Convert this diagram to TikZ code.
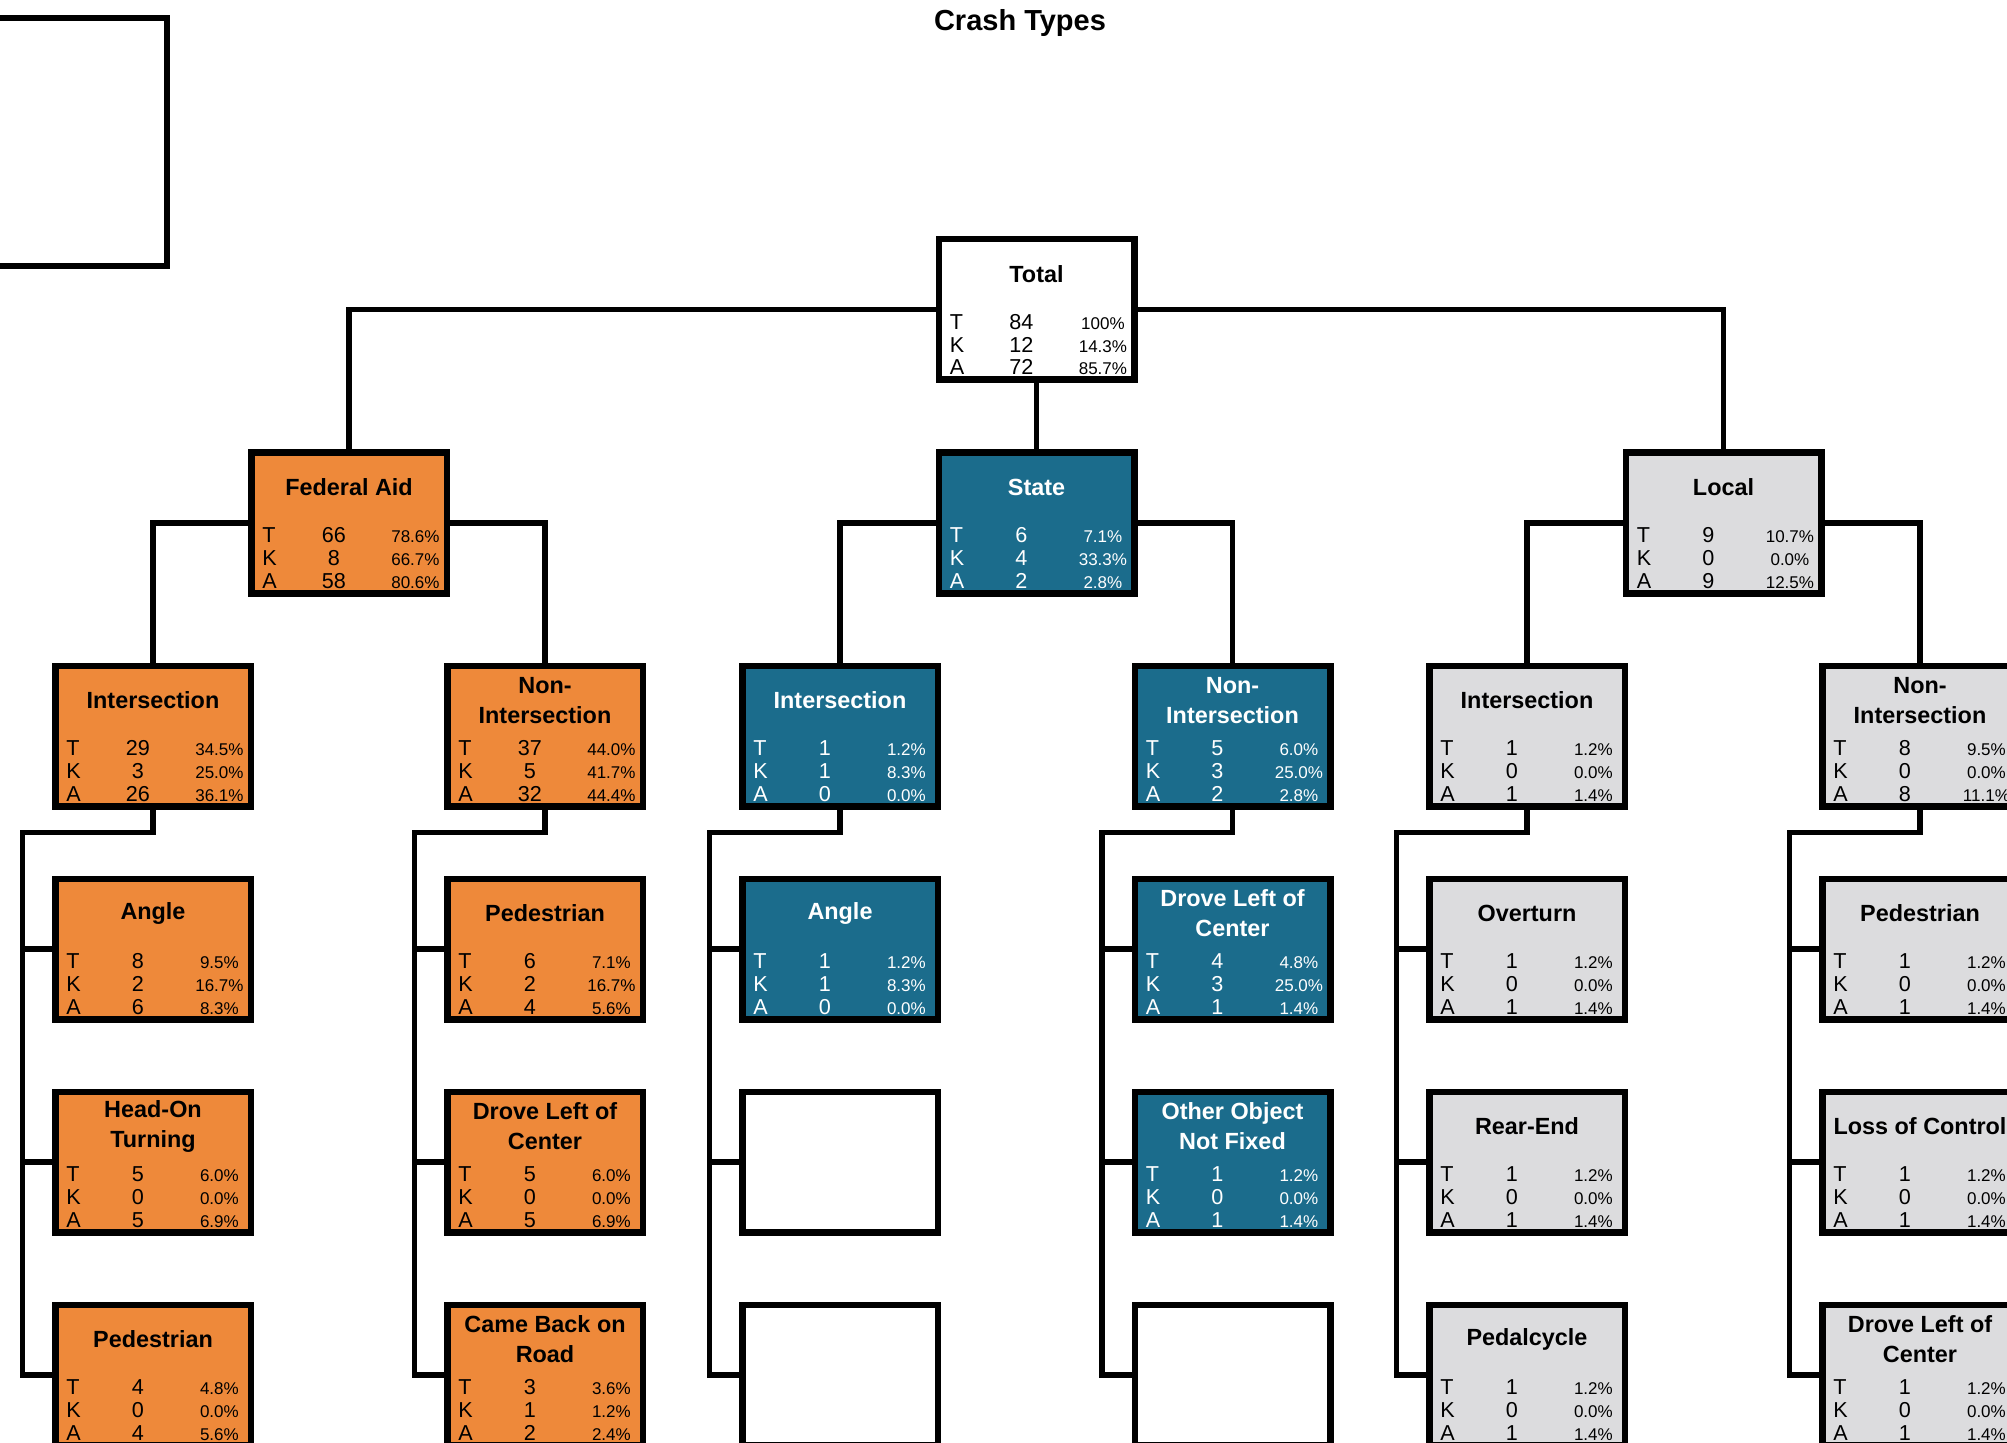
\documentclass[tikz,border=0pt]{standalone}
\usepackage{fontspec}
\setmainfont{Liberation Sans}
\usepackage{xcolor}
\usepackage{tikz}

\definecolor{fedorange}{RGB}{238,137,58}
\definecolor{stateblue}{RGB}{27,108,140}
\definecolor{localgray}{RGB}{220,220,222}

\newcommand{\pctfont}{\fontsize{8.5}{10}\selectfont}
\newcommand{\rowtext}[3]{\makebox[15pt][l]{#1}\makebox[41.5pt]{#2}\makebox[40pt]{\pctfont #3\%}}
\def\statrows#1#2#3/#4/#5/#6/#7/#8\relax{%
  \node[statrow, #1 text] (#2-T) at ([xshift=-43.5pt,yshift=-9.9pt]#2.center) {\rowtext{T}{#3}{#4}};
  \node[statrow, #1 text] (#2-K) at ([xshift=-43.5pt,yshift=-21.3pt]#2.center) {\rowtext{K}{#5}{#6}};
  \node[statrow, #1 text] (#2-A) at ([xshift=-43.5pt,yshift=-32.7pt]#2.center) {\rowtext{A}{#7}{#8}};
}
\newcommand{\crashbox}[5]{%
  \node[crash, #1 box] (#2) at (#3) {};
  \node[boxtitle, #1 text] (#2-title) at ([yshift=17.75pt]#2.center) {#4};
  \statrows{#1}{#2}#5\relax
}

\begin{document}
\begin{tikzpicture}[
    x=0.5pt, y=-0.5pt,
    crash/.style={rectangle, draw, line width=3.25pt, minimum width=97.75pt, minimum height=70.25pt, inner sep=0pt},
    emptybox/.style={crash, fill=white},
    total box/.style={fill=white}, total text/.style={text=black},
    fed box/.style={fill=fedorange}, fed text/.style={text=black},
    state box/.style={fill=stateblue}, state text/.style={text=white},
    local box/.style={fill=localgray}, local text/.style={text=black},
    boxtitle/.style={font=\fontsize{11.7}{15}\selectfont\bfseries, align=center, inner sep=0pt},
    statrow/.style={font=\fontsize{10.8}{12}\selectfont, anchor=base west, inner sep=0pt},
    link/.style={line width=2.6pt}
]
    \useasboundingbox (0,0) rectangle (2007,1443);
    \clip (0,0) rectangle (2007,1443);

    % Heading
    \node[font=\fontsize{14.5}{17}\selectfont\bfseries] (title) at (1020,23) {Crash Types};
    \node[draw, line width=3pt, minimum width=113.5pt, minimum height=124pt, inner sep=0pt] (legend) at (53.5,142) {};

    % Total
    \crashbox{total}{total}{1036.5,309.5}{Total}{84/100/12/14.3/72/85.7}

    % Jurisdiction
    \crashbox{fed}{fed}{349,523}{Federal Aid}{66/78.6/8/66.7/58/80.6}
    \crashbox{state}{state}{1036.5,523}{State}{6/7.1/4/33.3/2/2.8}
    \crashbox{local}{local}{1723.5,523}{Local}{9/10.7/0/0.0/9/12.5}

    % Location
    \crashbox{fed}{fedInt}{153,736}{Intersection}{29/34.5/3/25.0/26/36.1}
    \crashbox{fed}{fedNon}{545,736}{Non-\\Intersection}{37/44.0/5/41.7/32/44.4}
    \crashbox{state}{stateInt}{840,736}{Intersection}{1/1.2/1/8.3/0/0.0}
    \crashbox{state}{stateNon}{1232.5,736}{Non-\\Intersection}{5/6.0/3/25.0/2/2.8}
    \crashbox{local}{localInt}{1527,736}{Intersection}{1/1.2/0/0.0/1/1.4}
    \crashbox{local}{localNon}{1920,736}{Non-\\Intersection}{8/9.5/0/0.0/8/11.1}

    % Crash types - Federal Aid
    \crashbox{fed}{fedAngle}{153,949}{Angle}{8/9.5/2/16.7/6/8.3}
    \crashbox{fed}{fedHead}{153,1162}{Head-On\\Turning}{5/6.0/0/0.0/5/6.9}
    \crashbox{fed}{fedPed}{153,1375}{Pedestrian}{4/4.8/0/0.0/4/5.6}
    \crashbox{fed}{fedPedN}{545,949}{Pedestrian}{6/7.1/2/16.7/4/5.6}
    \crashbox{fed}{fedDrove}{545,1162}{Drove Left of\\Center}{5/6.0/0/0.0/5/6.9}
    \crashbox{fed}{fedBack}{545,1375}{Came Back on\\Road}{3/3.6/1/1.2/2/2.4}

    % Crash types - State
    \crashbox{state}{stateAngle}{840,949}{Angle}{1/1.2/1/8.3/0/0.0}
    \node[emptybox] (stateBlankA) at (840,1162) {};
    \node[emptybox] (stateBlankB) at (840,1375) {};
    \crashbox{state}{stateDrove}{1232.5,949}{Drove Left of\\Center}{4/4.8/3/25.0/1/1.4}
    \crashbox{state}{stateOther}{1232.5,1162}{Other Object\\Not Fixed}{1/1.2/0/0.0/1/1.4}
    \node[emptybox] (stateBlankC) at (1232.5,1375) {};

    % Crash types - Local
    \crashbox{local}{localOver}{1527,949}{Overturn}{1/1.2/0/0.0/1/1.4}
    \crashbox{local}{localRear}{1527,1162}{Rear-End}{1/1.2/0/0.0/1/1.4}
    \crashbox{local}{localCycle}{1527,1375}{Pedalcycle}{1/1.2/0/0.0/1/1.4}
    \crashbox{local}{localPed}{1920,949}{Pedestrian}{1/1.2/0/0.0/1/1.4}
    \crashbox{local}{localLoss}{1920,1162}{Loss of Control}{1/1.2/0/0.0/1/1.4}
    \crashbox{local}{localDrove}{1920,1375}{Drove Left of\\Center}{1/1.2/0/0.0/1/1.4}

    % Links
    \draw[link] (total.west) -| (fed.north);
    \draw[link] (total.east) -| (local.north);
    \draw[link] (total.south) -- (state.north);
    \draw[link] (fed.west) -| (fedInt.north);
    \draw[link] (fed.east) -| (fedNon.north);
    \draw[link] (state.west) -| (stateInt.north);
    \draw[link] (state.east) -| (stateNon.north);
    \draw[link] (local.west) -| (localInt.north);
    \draw[link] (local.east) -| (localNon.north);
    \foreach \parent/\ka/\kb/\kc in {fedInt/fedAngle/fedHead/fedPed, fedNon/fedPedN/fedDrove/fedBack,
        stateInt/stateAngle/stateBlankA/stateBlankB, stateNon/stateDrove/stateOther/stateBlankC,
        localInt/localOver/localRear/localCycle, localNon/localPed/localLoss/localDrove} {
        \draw[link] (\parent.south) -- ++(0,-11.5pt) -| ([xshift=-65.25pt]\parent.center |- \kc.center) -- (\kc.west);
        \draw[link] ([xshift=-65.25pt]\parent.center |- \ka.center) -- (\ka.west);
        \draw[link] ([xshift=-65.25pt]\parent.center |- \kb.center) -- (\kb.west);
    }
\end{tikzpicture}
\end{document}
